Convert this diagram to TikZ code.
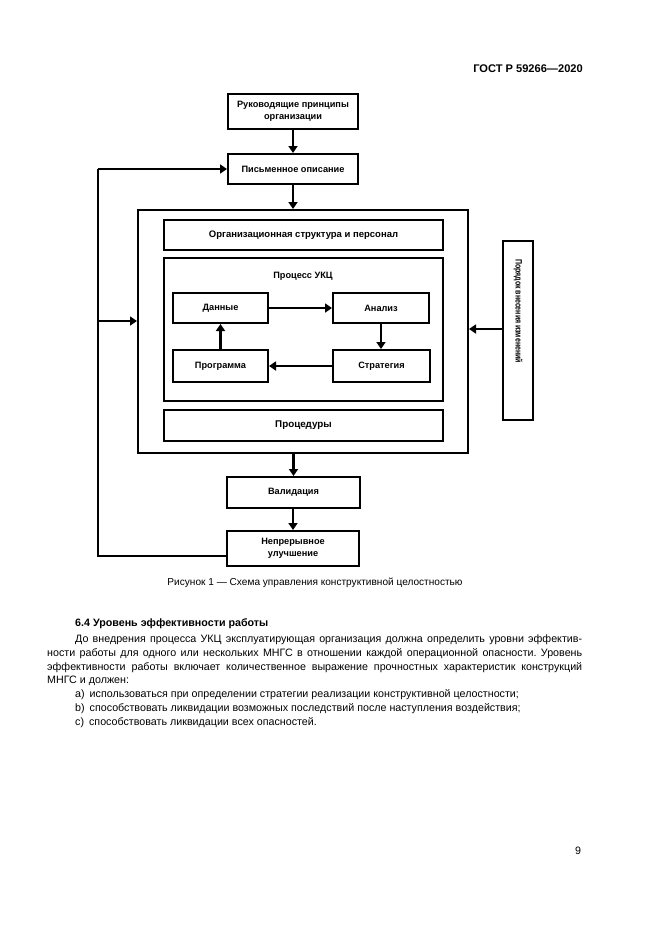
\documentclass[tikz,border=0pt]{standalone}
\usepackage{fontspec}
\setmainfont{Liberation Sans}
\usetikzlibrary{arrows.meta}
\frenchspacing
\tikzset{
  box/.style={draw, line width=2pt, fill=white, inner sep=1pt, align=center,
    font=\bfseries\fontsize{9.2}{12.3}\selectfont},
  conn/.style={line width=2.4pt, -{Triangle[width=9pt,length=7pt]}},
  line/.style={line width=2.4pt},
  body/.style={anchor=base west, inner sep=0pt, font=\fontsize{10.7}{13}\selectfont},
}
\begin{document}
\begin{tikzpicture}[x=1pt,y=-1pt]
\useasboundingbox[fill=white] (0,0) rectangle (661,935);
% header
\node[anchor=base east, inner sep=0pt, font=\bfseries\fontsize{11.1}{13}\selectfont] (hdr) at (583,72) {ГОСТ Р 59266—2020};
% diagram
\node[box, minimum width=130, minimum height=35] (lead) at (293,111.5) {Руководящие принципы\\организации};
\node[box, minimum width=130, minimum height=30] (desc) at (293,169) {Письменное описание};
\node[box, minimum width=330, minimum height=243] (outer) at (303,331.5) {};
\node[box, minimum width=279, minimum height=30, font=\bfseries\fontsize{9.5}{11}\selectfont] (org) at (303.5,235) {Организационная структура и персонал};
\node[box, minimum width=279, minimum height=143] (proc) at (303.5,329.5) {};
\node[box, minimum width=279, minimum height=31, font=\bfseries\fontsize{9.8}{11}\selectfont] (pr) at (303.5,425.5) {Процедуры};
\node[inner sep=0pt, font=\bfseries\fontsize{9.2}{10.5}\selectfont] (title) at (303,276) {Процесс УКЦ};
\node[box, minimum width=95, minimum height=30] (data) at (220.5,308) {Данные};
\node[box, minimum width=96, minimum height=30] (anal) at (381,308) {Анализ};
\node[box, minimum width=95, minimum height=32] (prog) at (220.5,366) {Программа};
\node[box, minimum width=97, minimum height=32] (strat) at (381.5,366) {Стратегия};
\node[box, minimum width=133, minimum height=31] (valid) at (293.5,492.5) {Валидация};
\node[box, minimum width=132, minimum height=35] (impr) at (293,548.5) {Непрерывное\\улучшение};
\node[box, minimum width=30, minimum height=179] (order) at (518,330.5) {};
\node[rotate=-90, inner sep=0pt, font=\bfseries\fontsize{9.2}{10.5}\selectfont] (ordertxt) at (518,311) {\scalebox{0.76}[1]{Порядок внесения изменений}};
% connectors
\draw[conn] (lead.south) -- (desc.north);
\draw[conn] (desc.south) -- (outer.north -| desc.south);
\draw[conn] (outer.south -| valid.north) -- (valid.north);
\draw[conn] (valid.south -| impr.north) -- (impr.north);
\coordinate (fbB) at (98,556);
\coordinate (fbM) at (98,321);
\coordinate (fbT) at (98,169);
\draw[line] (impr.west |- fbB) -- (fbB) -- (fbT);
\draw[conn] (fbT) -- (desc.west);
\draw[conn] (fbM) -- (outer.west |- fbM);
\draw[conn] (order.west |- 0,329) -- (outer.east |- 0,329);
\draw[conn] (data.east) -- (anal.west);
\draw[conn] (anal.south) -- (strat.north -| anal.south);
\draw[conn] (strat.west) -- (prog.east);
\draw[conn] (prog.north) -- (data.south);
% caption
\node[inner sep=0pt, font=\fontsize{10.1}{12}\selectfont] (cap) at (315,583) {Рисунок 1 — Схема управления конструктивной целостностью};
% text
\node[body, font=\bfseries\fontsize{10.7}{13}\selectfont] (h) at (75,626) {6.4 Уровень эффективности работы};
\node[body] (l1) at (75,642) {\makebox[507pt][s]{До внедрения процесса УКЦ эксплуатирующая организация должна определить уровни эффектив-}};
\node[body] (l2) at (47,656) {\makebox[535pt][s]{ности работы для одного или нескольких МНГС в отношении каждой операционной опасности. Уровень}};
\node[body] (l3) at (47,670) {\makebox[535pt][s]{эффективности работы включает количественное выражение прочностных характеристик конструкций}};
\node[body] (l4) at (47,683) {МНГС и должен:};
\node[body] (la) at (75,697) {a)\hspace{5pt}использоваться при определении стратегии реализации конструктивной целостности;};
\node[body] (lb) at (75,711) {b)\hspace{5pt}способствовать ликвидации возможных последствий после наступления воздействия;};
\node[body] (lc) at (75,725) {c)\hspace{5pt}способствовать ликвидации всех опасностей.};
\node[body] (pg) at (575,854) {9};
\end{tikzpicture}
\end{document}
